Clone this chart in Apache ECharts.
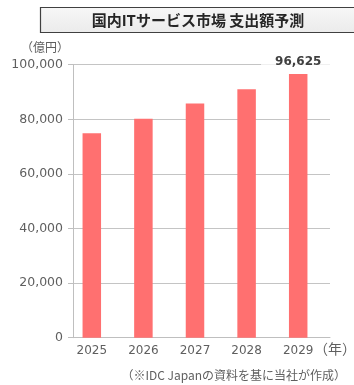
<!DOCTYPE html>
<html><head><meta charset="utf-8">
<script src="https://cdn.jsdelivr.net/npm/echarts@6/dist/echarts.min.js"></script>
<style>html,body{margin:0;padding:0;background:#fff}#c{width:354px;height:385px}</style>
</head><body><div id="c"></div>
<script>
const title = '国内ITサービス市場 支出額予測';
const categories = ['2025', '2026', '2027', '2028', '2029'];
const values = [74900, 80200, 85800, 91000, 96625];
const yTicks = [0, 20000, 40000, 60000, 80000, 100000];
const unitY = '（億円）';
const unitX = '（年）';
const source = '（※IDC Japanの資料を基に当社が作成）';

const FONT = '"Noto Sans CJK JP", "Noto Sans", sans-serif';
const NUMFONT = '"DejaVu Sans", "Noto Sans CJK JP", sans-serif';
const gray = '#5f5f5f';
const chart = echarts.init(document.getElementById('c'), null, {renderer: 'canvas'});
const fmt = v => v.toLocaleString('en-US');
chart.setOption({
  animation: false,
  textStyle: {fontFamily: FONT},
  graphic: [
    {type: 'rect', shape: {x: 40.5, y: 7.5, width: 330, height: 25},
     style: {fill: new echarts.graphic.LinearGradient(0, 0, 0, 1, [{offset: 0, color: '#f7f7f7'}, {offset: 1, color: '#ebebeb'}]), stroke: '#404040', lineWidth: 1.2}},
    {type: 'text', x: 198, y: 20, style: {text: title, font: 'bold 15px ' + FONT, fill: '#262626', align: 'center', verticalAlign: 'middle'}},
    {type: 'text', x: 45, y: 47, style: {text: unitY, font: '12px ' + FONT, fill: gray, align: 'center', verticalAlign: 'middle'}},
    {type: 'text', x: 335, y: 349, style: {text: unitX, font: '14px ' + FONT, fill: gray, align: 'center', verticalAlign: 'middle'}},
    {type: 'text', x: 346, y: 375, style: {text: source, font: '12px ' + FONT, fill: gray, align: 'right', verticalAlign: 'middle'}}
  ],
  grid: [
    {left: 66, right: 30, top: 64.7, bottom: 47.3},
    {left: 73, right: 24, top: 64.7, bottom: 47.3}
  ],
  xAxis: [
    {type: 'category', gridIndex: 0, data: categories, axisLine: {show: false}, axisTick: {show: false},
     axisLabel: {color: gray, fontSize: 12, margin: 7, fontFamily: NUMFONT}},
    {type: 'category', gridIndex: 1, data: categories, axisLine: {show: true, lineStyle: {color: '#bfbfbf', width: 1}},
     axisTick: {show: false}, axisLabel: {show: false}}
  ],
  yAxis: [
    {type: 'value', gridIndex: 0, min: yTicks[0], max: yTicks[yTicks.length - 1], interval: 20000, show: false, splitLine: {show: false}},
    {type: 'value', gridIndex: 1, min: yTicks[0], max: yTicks[yTicks.length - 1], interval: 20000,
     axisLine: {show: true, lineStyle: {color: '#bfbfbf', width: 1}},
     axisTick: {show: true, length: 5, lineStyle: {color: '#bfbfbf'}},
     axisLabel: {color: gray, fontSize: 12.5, margin: 10, fontFamily: NUMFONT, formatter: v => fmt(v)},
     splitLine: {show: true, lineStyle: {color: '#c4c4c4', width: 1}}}
  ],
  series: [
    {type: 'bar', xAxisIndex: 0, yAxisIndex: 0, data: values, barWidth: 18.5,
     itemStyle: {color: '#ff7070'}, z: 5,
     label: {show: true, position: 'top', distance: 5, fontSize: 12, fontWeight: 'bold', color: '#404040', fontFamily: NUMFONT,
       backgroundColor: 'rgba(255,255,255,0.75)', padding: [1, 14],
       formatter: p => p.dataIndex === values.length - 1 ? fmt(p.value) : ''}},
    {type: 'bar', xAxisIndex: 1, yAxisIndex: 1, data: [], silent: true}
  ]
});
</script></body></html>
